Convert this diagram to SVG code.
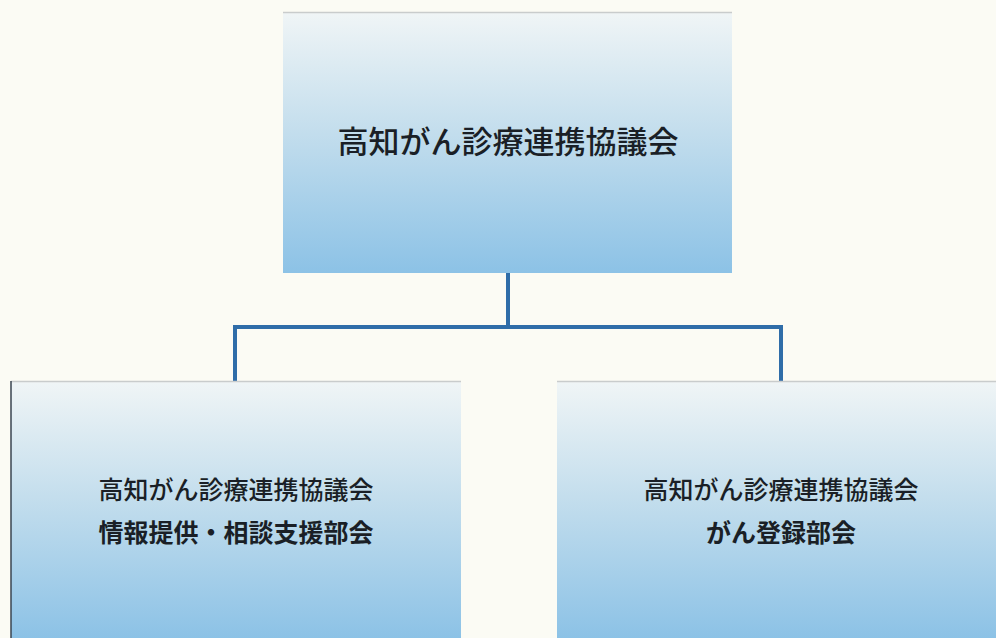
<svg xmlns="http://www.w3.org/2000/svg" width="996" height="638" viewBox="0 0 996 638">
<defs>
<linearGradient id="g" x1="0" y1="0" x2="0" y2="1">
<stop offset="0" stop-color="#f0f5f6"/>
<stop offset="0.45" stop-color="#c4deed"/>
<stop offset="1" stop-color="#8cc2e6"/>
</linearGradient>
</defs>
<style>
.box{fill:url(#g);stroke:none}
.edge{stroke:#c9cccc;stroke-width:1.5}
.t{font-family:"Noto Sans CJK JP","Noto Sans CJK SC",sans-serif;fill:#1a1f26;text-anchor:middle;font-weight:500}
.b{font-weight:bold}
.conn{fill:none;stroke:#2f6da8;stroke-width:4;stroke-linejoin:miter}
</style>
<rect width="996" height="638" fill="#fbfbf4"/>
<g id="connectors">
<path class="conn" d="M508 272 V327 M235 381 V327 H781 V381"/>
</g>
<g id="top">
<rect class="box" x="283" y="12" width="449" height="261"/>
<line class="edge" x1="283" y1="12.5" x2="732" y2="12.5"/>
<text class="t" x="508" y="153" font-size="31">高知がん診療連携協議会</text>
</g>
<g id="left">
<rect class="box" x="11" y="381" width="450" height="257"/>
<line class="edge" x1="11" y1="381.5" x2="461" y2="381.5"/>
<line x1="11" y1="381" x2="11" y2="638" stroke="#3a4450" stroke-width="1.5"/>
<text class="t" x="236" y="499" font-size="25">高知がん診療連携協議会</text>
<text class="t b" x="236" y="542" font-size="25">情報提供・相談支援部会</text>
</g>
<g id="right">
<rect class="box" x="557" y="381" width="439" height="257"/>
<line class="edge" x1="557" y1="381.5" x2="996" y2="381.5"/>
<text class="t" x="781" y="499" font-size="25">高知がん診療連携協議会</text>
<text class="t b" x="781" y="542" font-size="25">がん登録部会</text>
</g>
</svg>
